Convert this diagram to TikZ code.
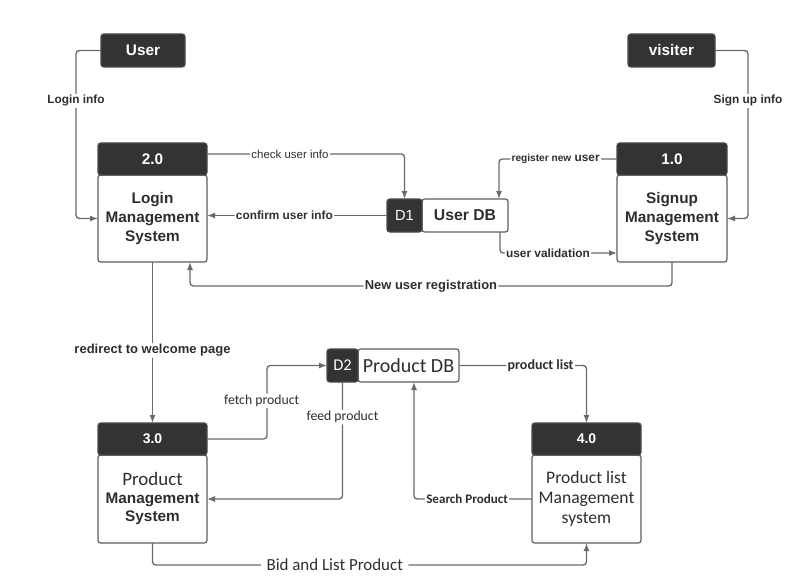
\documentclass[tikz,border=0pt]{standalone}
\usepackage{fontspec}
\setmainfont{Liberation Sans}
\newfontfamily\calib{Carlito}
\usetikzlibrary{arrows.meta,calc}
\definecolor{darkbox}{HTML}{333333}
\definecolor{darkrim}{HTML}{4A4A4A}
\definecolor{rim}{HTML}{5E5E5E}
\definecolor{edge}{HTML}{6A6A6A}
\definecolor{labtext}{HTML}{2E2E2E}
\begin{document}
\begin{tikzpicture}[x=0.75pt,y=0.75pt,yscale=-1,
	flow/.style={draw=edge, line width=1pt, rounded corners=2.5pt, -{Latex[length=6pt,width=4.5pt]}},
	lbl/.style={fill=white, inner sep=1pt, text=labtext, font=\bfseries\fontsize{8.9}{10}\selectfont},
	dark/.style 2 args={fill=darkbox, draw=darkrim, line width=0.8pt, rounded corners=2pt, text=white, inner sep=0pt, outer sep=0pt, minimum width=#1*0.75pt, minimum height=#2*0.75pt, font=\bfseries\fontsize{11.5}{13}\selectfont},
	plain/.style 2 args={fill=white, draw=rim, line width=0.9pt, rounded corners=2pt, text=labtext, inner sep=0pt, outer sep=0pt, align=center, minimum width=#1*0.75pt, minimum height=#2*0.75pt, font=\bfseries\fontsize{11.5}{14.25}\selectfont}]
	\useasboundingbox (0,0) rectangle (797,585);
	\node[dark={84}{33}] (user) at (143,50.5) {User};
	\node[dark={87}{33}] (visiter) at (671.5,50.5) {visiter};
	\node[plain={109}{87}] (loginb) at (152.5,218.5) {Login\\Management\\System};
	\node[dark={109}{32}] (loginh) at (152.5,159) {2.0};
	\node[plain={110}{87}] (signb) at (672,218.5) {Signup\\Management\\System};
	\node[dark={110}{32}] (signh) at (672,159) {1.0};
	\node[plain={86}{33}, font=\bfseries\fontsize{11.8}{13}\selectfont] (userdb) at (465,215.5) {User DB};
	\node[dark={35}{33}, font=\fontsize{11}{13}\selectfont] (d1) at (404.5,215.5) {D1};
	\node[plain={101}{33}, font=\calib\fontsize{15}{16}\selectfont] (proddb) at (408.5,365.5) {Product DB};
	\node[dark={31}{33}, font=\calib\fontsize{12.3}{14}\selectfont] (d2) at (342.5,365.5) {D2};
	\node[plain={109}{88}, font=\bfseries\fontsize{11.5}{13.5}\selectfont] (prodb) at (152.5,499) {{\mdseries\calib\fontsize{14.2}{14}\selectfont Product}\\Management\\System};
	\node[dark={109}{32}, font=\bfseries\fontsize{10.5}{12}\selectfont] (prodh) at (152.5,439) {3.0};
	\node[plain={109}{88}, font=\calib\fontsize{13.2}{15}\selectfont] (listb) at (586.5,499) {Product list\\Management\\system};
	\node[dark={109}{32}, font=\bfseries\fontsize{10.5}{12}\selectfont] (listh) at (586.5,439) {4.0};
	\draw[flow] (user.west) -- ++(-25,0) |- node[lbl,pos=0.15]{Login info} (loginb.west);
	\draw[flow] (visiter.east) -- ++(33,0) |- node[lbl,pos=0.15]{Sign up info} (signb.east);
	\draw[flow] ($(loginh.east)+(0,-5)$) -| node[lbl,pos=0.21,font=\fontsize{8.6}{10}\selectfont]{check user info} (d1.north);
	\draw[flow] (d1.west) -- node[lbl,pos=0.57]{confirm user info} (d1.west -| loginb.east);
	\draw[flow] (signh.west) -| node[lbl,pos=0.26]{{\fontsize{7.6}{9}\selectfont register new} user} ($(userdb.north east)+(-9,0)$);
	\draw[flow] ($(userdb.south east)+(-8,0)$) |- node[lbl,pos=0.705]{user validation} ($(signb.south west)+(0,-9)$);
	\draw[flow] (signb.south) -- ++(0,24) -| node[lbl,pos=0.25,font=\bfseries\fontsize{9.7}{11}\selectfont]{New user registration} ($(loginb.south)+(37.5,0)$);
	\draw[flow] (loginb.south) -- node[lbl,pos=0.55,font=\bfseries\fontsize{9.75}{11}\selectfont]{redirect to welcome page} (prodh.north);
	\draw[flow] (prodh.east) -- ++(60,0) |- node[lbl,pos=0.26,xshift=-4pt,font=\calib\fontsize{10.3}{12}\selectfont]{fetch product} (d2.west);
	\draw[flow] (d2.south) |- node[lbl,pos=0.15,font=\calib\fontsize{10.3}{12}\selectfont]{feed product} (prodb.east);
	\draw[flow] (proddb.east) -| node[lbl,pos=0.32,font=\calib\bfseries\fontsize{10.5}{12}\selectfont]{product list} (listh.north);
	\draw[flow] (listb.west) -| node[lbl,pos=0.275,font=\calib\bfseries\fontsize{9.8}{11}\selectfont]{Search Product} ($(proddb.south)+(5.5,0)$);
	\draw[flow] (prodb.south) -- ++(0,22) -| node[lbl,pos=0.21,inner xsep=4pt,font=\calib\fontsize{12.7}{14}\selectfont]{Bid and List Product} (listb.south);
\end{tikzpicture}
\end{document}
